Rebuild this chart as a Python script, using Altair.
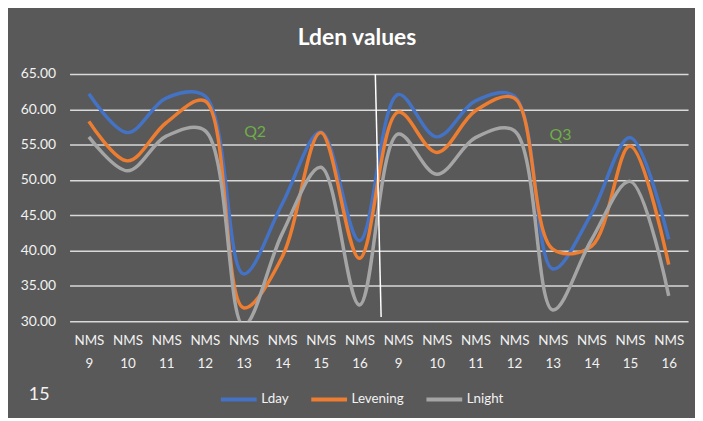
import altair as alt
import pandas as pd

stations = [9, 10, 11, 12, 13, 14, 15, 16, 9, 10, 11, 12, 13, 14, 15, 16]
lday = [62.2, 56.7, 61.6, 61.9, 36.7, 46.6, 56.8, 41.4,
        62.1, 56.1, 61.2, 61.9, 37.4, 45.2, 56.0, 41.6]
levening = [58.3, 52.7, 58.1, 61.2, 31.9, 39.1, 56.7, 38.9,
            59.6, 53.9, 59.8, 61.6, 40.2, 40.6, 54.8, 38.0]
lnight = [56.1, 51.3, 56.2, 57.0, 29.4, 42.4, 51.8, 32.3,
          56.5, 50.8, 56.0, 57.0, 31.6, 41.5, 49.8, 33.6]
series_names = ["Lday", "Levening", "Lnight"]
series_colors = ["#4472C4", "#ED7D31", "#A5A5A5"]
y_ticks = [30, 35, 40, 45, 50, 55, 60, 65]

rows = []
for name, vals in zip(series_names, [lday, levening, lnight]):
    for i, (s, v) in enumerate(zip(stations, vals)):
        rows.append({"idx": i, "station": s, "series": name, "value": v})
df = pd.DataFrame(rows)

quarters = pd.DataFrame({"idx": [4.3, 12.2], "value": [56.8, 56.3], "label": ["Q2", "Q3"]})
divider = pd.DataFrame({"x": [7.41], "x2": [7.56], "y": [65.0], "y2": [30.6]})

FONT = "Lato"

xscale = alt.Scale(domain=[-0.5, 15.5], nice=False, zero=False)
yscale = alt.Scale(domain=[30, 65], nice=False, zero=False)

xaxis = alt.Axis(values=list(range(16)), grid=False, ticks=False, domain=False,
                 labelExpr="['NMS', '' + (datum.value % 8 + 9)]",
                 labelColor="#F2F2F2", labelFontSize=13.5, labelFont=FONT,
                 labelPadding=12, labelLineHeight=24, labelOverlap=False)
yaxis = alt.Axis(values=y_ticks, format=".2f", tickCount=8,
                 grid=True, gridColor="#D9D9D9", gridWidth=1.5,
                 ticks=False, domain=False, labelColor="#F2F2F2",
                 labelFontSize=14, labelFont=FONT, labelPadding=14,
                 labelOverlap=False)

lines = alt.Chart(df).mark_line(
    interpolate="catmull-rom", strokeWidth=3.5, clip=True
).encode(
    x=alt.X("idx:Q", scale=xscale, title=None, axis=xaxis),
    y=alt.Y("value:Q", scale=yscale, title=None, axis=yaxis),
    color=alt.Color("series:N",
                    scale=alt.Scale(domain=series_names, range=series_colors),
                    sort=series_names,
                    legend=alt.Legend(title=None, orient="none", direction="horizontal",
                                      legendX=150, legendY=307,
                                      symbolType="stroke", symbolStrokeWidth=4,
                                      symbolSize=1300, labelColor="#F2F2F2",
                                      labelFontSize=13.5, labelFont=FONT,
                                      columnPadding=14, labelOffset=2)),
)

rule = alt.Chart(divider).mark_rule(color="white", strokeWidth=1.5).encode(
    x=alt.X("x:Q", scale=xscale, title=None, axis=xaxis), x2="x2:Q",
    y=alt.Y("y:Q", scale=yscale, title=None, axis=yaxis), y2="y2:Q",
)

qtext = alt.Chart(quarters).mark_text(color="#70AD47", fontSize=16, font=FONT).encode(
    x=alt.X("idx:Q", scale=xscale, title=None, axis=xaxis),
    y=alt.Y("value:Q", scale=yscale, title=None, axis=yaxis),
    text="label:N"
)

page = alt.Chart(pd.DataFrame({"t": ["15"]})).mark_text(
    color="#F2F2F2", fontSize=18, font=FONT, align="left"
).encode(x=alt.value(-41), y=alt.value(323), text="t:N")

chart = alt.layer(lines, rule, qtext, page).properties(
    width=623, height=249,
    background="#595959",
    padding={"left": 62, "top": 65, "right": 7, "bottom": 96},
    autosize=alt.AutoSizeParams(type="none"),
    title=alt.TitleParams("Lden values", color="white", fontSize=23, fontWeight="bold",
                          font=FONT, anchor="middle", dx=-22, offset=17),
).configure_view(stroke=None)

chart.save("out.html", embed_options={"renderer": "svg", "actions": False})
